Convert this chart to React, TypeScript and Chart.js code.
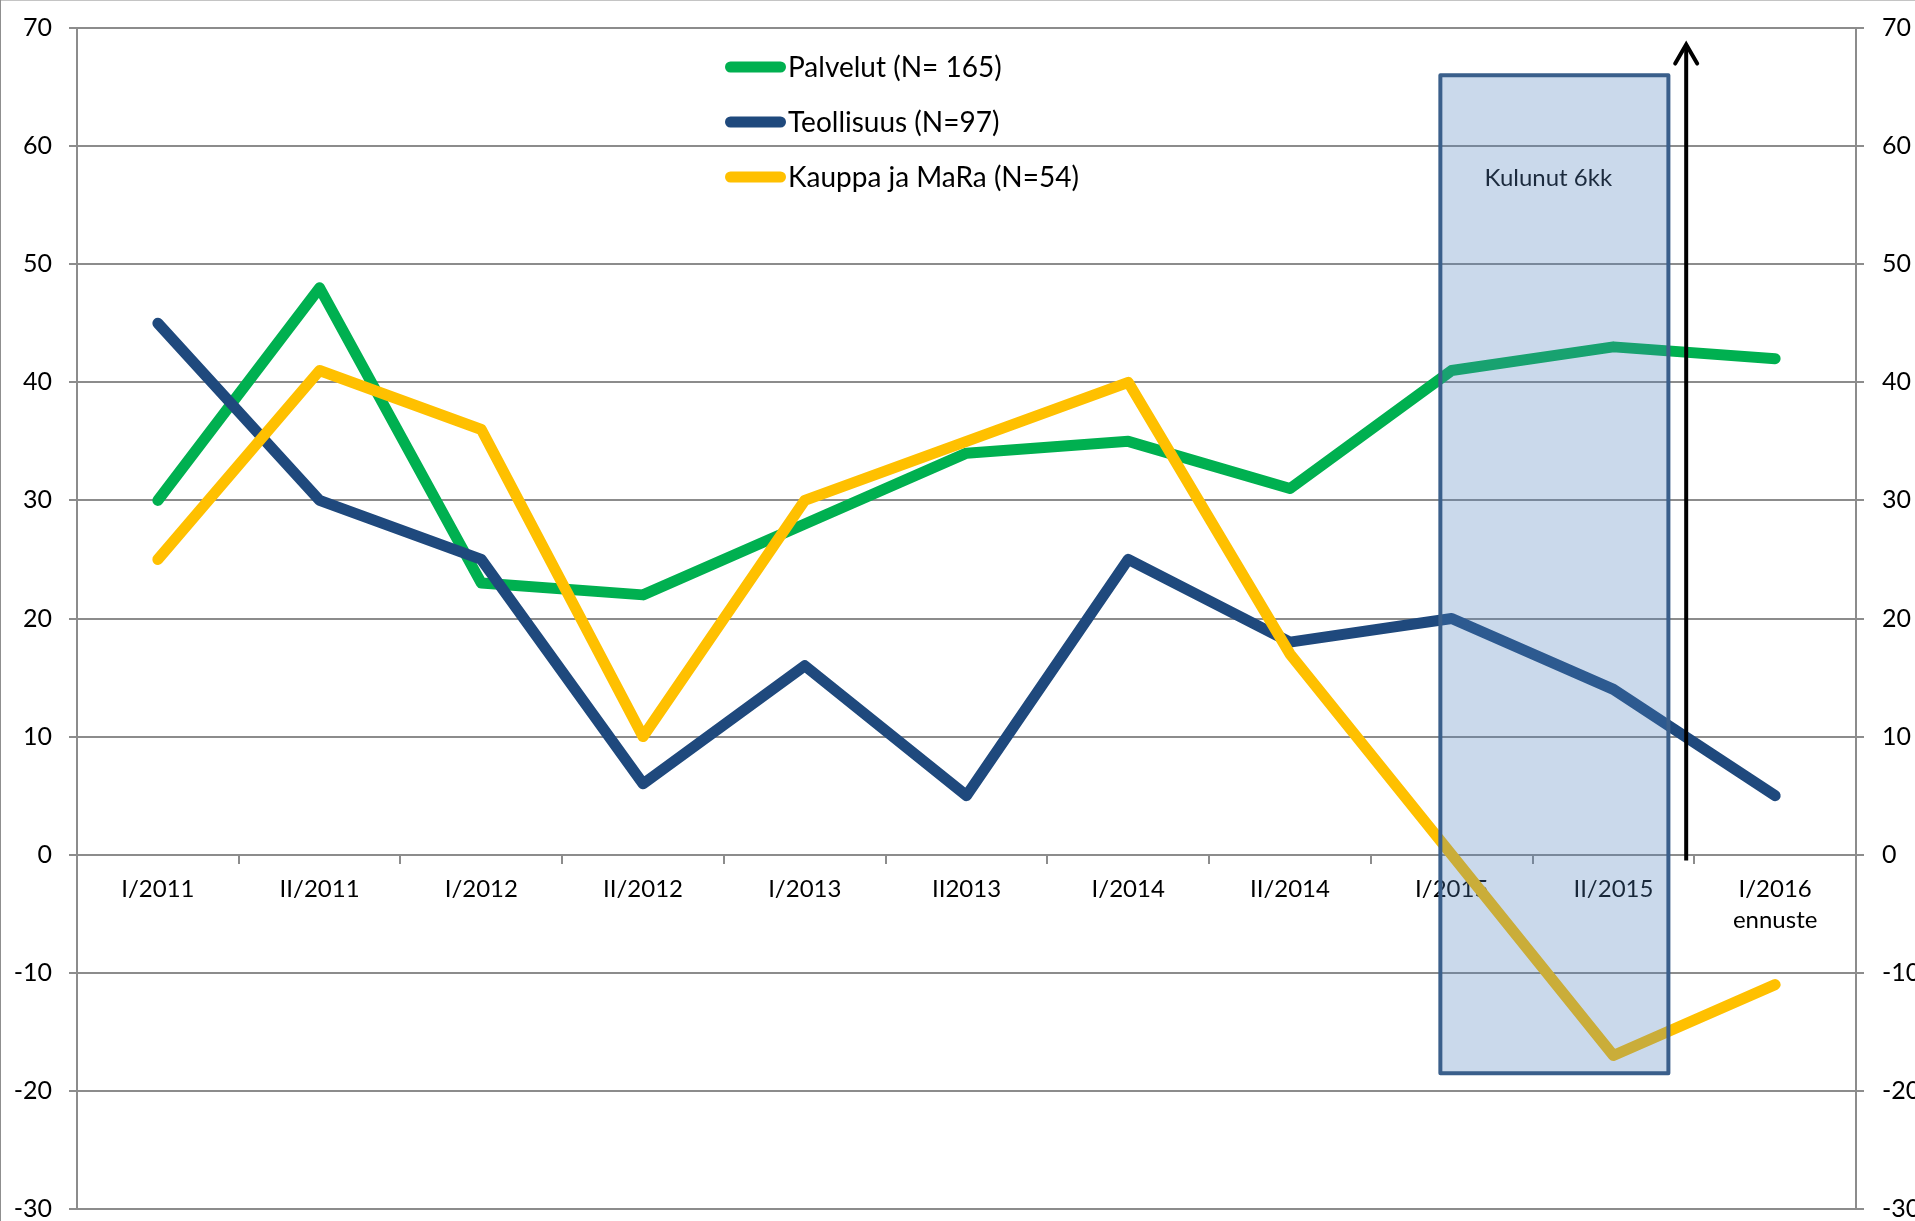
import React, { useEffect, useRef } from "react";
import { Chart, registerables } from "chart.js";

Chart.register(...registerables);

// ---- data ----
const categories: (string | string[])[] = [
  "I/2011", "II/2011", "I/2012", "II/2012", "I/2013", "II2013",
  "I/2014", "II/2014", "I/2015", "II/2015", ["I/2016", "ennuste"],
];
const palvelut = [30, 48, 23, 22, 28, 34, 35, 31, 41, 43, 42];
const teollisuus = [45, 30, 25, 6, 16, 5, 25, 18, 20, 14, 5];
const kauppa = [25, 41, 36, 10, 30, 35, 40, 17, 0, -17, -11];
const seriesLabels = ["Palvelut (N= 165)", "Teollisuus (N=97)", "Kauppa ja MaRa (N=54)"];
const seriesColors = ["#00b050", "#1f497d", "#ffc000"];
const yMin = -30;
const yMax = 70;
const yStep = 10;

// annotation (in data / category-index units)
const boxLabel = "Kulunut 6kk";
const boxRange = { xFrom: 7.93, xTo: 9.34, yFrom: 66, yTo: -18.5, labelY: 57.3 };
const arrowRange = { x: 9.45, yFrom: -0.5, yTo: 68.6 };

const FONT = 'Lato, "Open Sans", "Noto Sans", sans-serif';
const GRID = "#8c8c8c";

const overlayPlugin = {
  id: "overlay",
  beforeDraw(chart: any) {
    const { ctx, width, height } = chart;
    ctx.save();
    ctx.fillStyle = "#ffffff";
    ctx.fillRect(0, 0, width, height);
    ctx.strokeStyle = "#c4c4c4";
    ctx.lineWidth = 2;
    ctx.beginPath();
    ctx.moveTo(0, 0);
    ctx.lineTo(width, 0);
    ctx.stroke();
    ctx.strokeStyle = "#8f8f8f";
    ctx.beginPath();
    ctx.moveTo(0, 0);
    ctx.lineTo(0, height);
    ctx.stroke();
    ctx.restore();
  },
  afterDatasetsDraw(chart: any) {
    const { ctx, scales } = chart;
    const x = scales.x;
    const y = scales.y;
    ctx.save();
    // shaded box
    const x0 = x.getPixelForValue(boxRange.xFrom);
    const x1 = x.getPixelForValue(boxRange.xTo);
    const y0 = y.getPixelForValue(boxRange.yFrom);
    const y1 = y.getPixelForValue(boxRange.yTo);
    ctx.fillStyle = "rgba(79,129,189,0.3)";
    ctx.fillRect(x0, y0, x1 - x0, y1 - y0);
    ctx.strokeStyle = "#3a5f8b";
    ctx.lineWidth = 4;
    ctx.lineJoin = "round";
    ctx.strokeRect(x0, y0, x1 - x0, y1 - y0);
    ctx.fillStyle = "#1c2b3e";
    ctx.font = `24px ${FONT}`;
    ctx.textAlign = "center";
    ctx.textBaseline = "middle";
    ctx.fillText(boxLabel, (x0 + x1) / 2 - 6, y.getPixelForValue(boxRange.labelY));

    // arrow
    const ax = x.getPixelForValue(arrowRange.x);
    const ay0 = y.getPixelForValue(arrowRange.yFrom);
    const ay1 = y.getPixelForValue(arrowRange.yTo);
    ctx.strokeStyle = "#000000";
    ctx.lineWidth = 4;
    ctx.lineCap = "butt";
    ctx.beginPath();
    ctx.moveTo(ax, ay0);
    ctx.lineTo(ax, ay1 + 2);
    ctx.stroke();
    ctx.lineCap = "round";
    ctx.lineJoin = "miter";
    ctx.beginPath();
    ctx.moveTo(ax - 11, ay1 + 19);
    ctx.lineTo(ax, ay1);
    ctx.lineTo(ax + 11, ay1 + 19);
    ctx.stroke();

    // legend
    const lx = 725, ly = 67, len = 61, rowH = 55;
    chart.data.datasets.forEach((ds: any, i: number) => {
      const yy = ly + i * rowH;
      ctx.strokeStyle = ds.borderColor;
      ctx.lineWidth = 11;
      ctx.lineCap = "round";
      ctx.beginPath();
      ctx.moveTo(lx + 5.5, yy);
      ctx.lineTo(lx + len - 5.5, yy);
      ctx.stroke();
      ctx.fillStyle = "#000000";
      ctx.font = `28px ${FONT}`;
      ctx.textAlign = "left";
      ctx.textBaseline = "middle";
      ctx.fillText(ds.label, lx + len + 2, yy + 1);
    });
    ctx.restore();
  },
};

export default function App() {
  const ref = useRef<HTMLCanvasElement>(null);
  useEffect(() => {
    document.body.style.margin = "0";
    document.body.style.overflow = "hidden";
    const seriesData = [palvelut, teollisuus, kauppa];
    const chart = new Chart(ref.current as HTMLCanvasElement, {
      type: "line",
      data: {
        labels: categories as any,
        datasets: seriesData.map((d, i) => ({
          label: seriesLabels[i],
          data: d,
          borderColor: seriesColors[i],
          backgroundColor: seriesColors[i],
          borderWidth: 11,
          pointRadius: 0,
          pointHoverRadius: 0,
          borderCapStyle: "round" as const,
          borderJoinStyle: "round" as const,
          tension: 0,
          fill: false,
          order: 3 - i,
          yAxisID: "y",
        })),
      },
      options: {
        animation: false,
        responsive: false,
        layout: { padding: { top: 28, bottom: 12, left: 0, right: 0 } },
        plugins: { legend: { display: false }, tooltip: { enabled: false } },
        scales: {
          x: {
            type: "category",
            offset: true,
            position: { y: 0 } as any,
            grid: {
              offset: true,
              drawOnChartArea: false,
              drawTicks: true,
              tickLength: 8,
              color: GRID,
              lineWidth: 2,
            },
            border: { display: true, color: GRID, width: 2 },
            ticks: {
              font: { family: FONT, size: 24, lineHeight: 1.3 },
              color: "#000000",
              padding: 11,
              maxRotation: 0,
              autoSkip: false,
            },
          },
          y: {
            position: "left",
            min: yMin,
            max: yMax,
            ticks: {
              stepSize: yStep,
              font: { family: FONT, size: 25 },
              color: "#000000",
              padding: 17,
            },
            grid: { color: GRID, lineWidth: 2, tickLength: 8 },
            border: { display: true, color: GRID, width: 2 },
            afterFit(s: any) {
              s.width = 77;
              s.paddingTop = 0;
              s.paddingBottom = 0;
            },
          },
          y2: {
            position: "right",
            min: yMin,
            max: yMax,
            ticks: {
              stepSize: yStep,
              font: { family: FONT, size: 25 },
              color: "#000000",
              padding: 18,
            },
            grid: { drawOnChartArea: false, color: GRID, lineWidth: 2, tickLength: 8 },
            border: { display: true, color: GRID, width: 2 },
            afterFit(s: any) {
              s.width = 59;
              s.paddingTop = 0;
              s.paddingBottom = 0;
            },
          },
        },
      } as any,
      plugins: [overlayPlugin],
    });
    return () => chart.destroy();
  }, []);
  return (
    <div style={{ width: 1915, height: 1221, overflow: "hidden" }}>
      <canvas ref={ref} width={1915} height={1221} style={{ display: "block" }} />
    </div>
  );
}
